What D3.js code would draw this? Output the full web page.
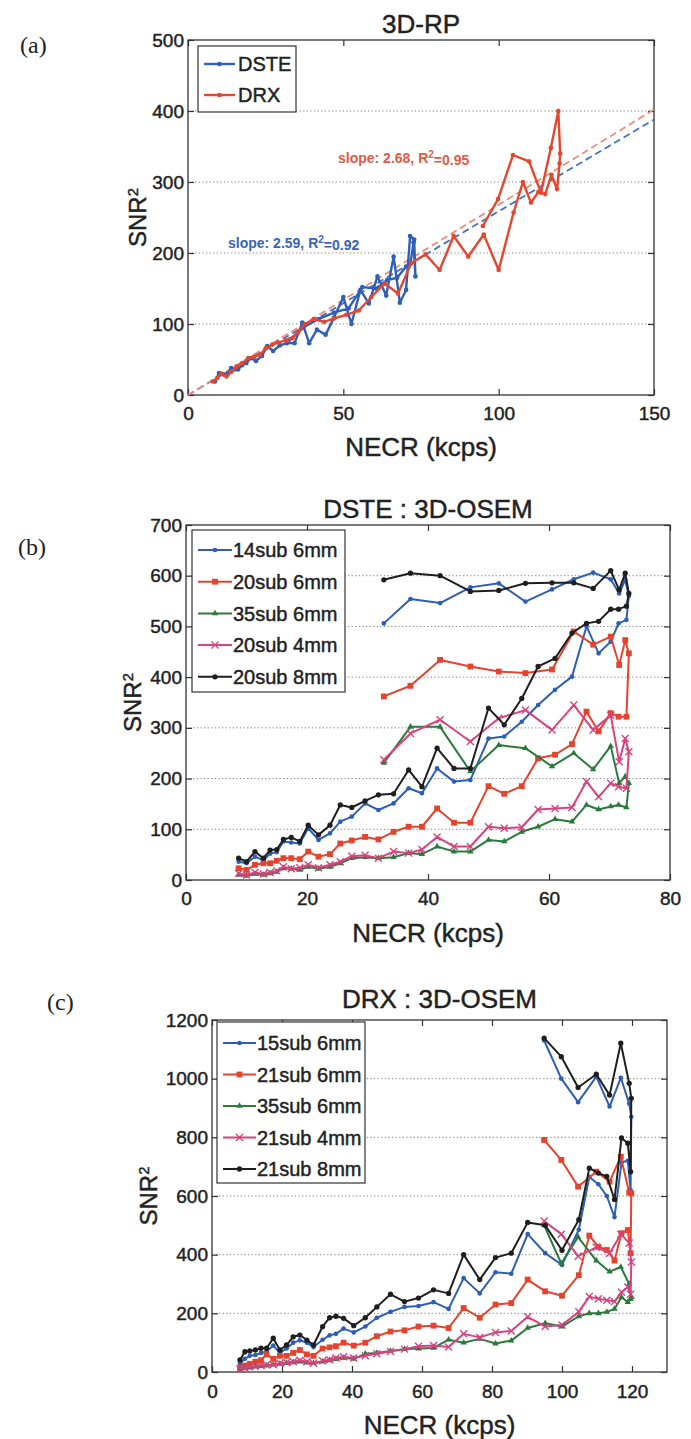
<!DOCTYPE html>
<html>
<head>
<meta charset="utf-8">
<script src="https://cdn.jsdelivr.net/npm/d3@7"></script>
<style>
  body { margin: 0; background: #fff; }
  svg text { font-family: "Liberation Sans", Arial, Helvetica, sans-serif; fill: #222; }
  svg text.heavy { stroke: #222; stroke-width: 0.45px; }
</style>
</head>
<body>
<script>
// ---- data (NECR in kcps, SNR^2) ----
// DSTE acquisitions: rising branch then falling branch (high activity)
const necrDste = [8.7, 10.0, 11.4, 12.8, 13.9, 15.0, 16.1, 17.4, 18.8, 20.2, 21.9, 23.8, 25.5, 27.4, 29.6, 31.8,
  34.3, 36.8, 39.0, 41.5, 44.3, 47.0, 50.0, 52.6, 55.5, 58.2, 61.0, 63.8, 66.2, 68.2, 70.2, 71.5, 72.8,
  73.2, 72.6, 71.6, 70.2, 67.3, 64.1, 60.5, 56.1, 51.7, 47.0, 42.0, 37.1, 32.7];
// DRX acquisitions
const necrDrx = [8.0, 9.4, 10.8, 12.4, 14.0, 15.6, 17.5, 19.4, 21.3, 23.2, 25.1, 27.1, 29.0, 31.6, 33.6, 35.4,
  37.6, 40.5, 43.8, 47.1, 51.0, 55.0, 59.0, 63.3, 67.6, 71.9, 76.5, 81.0, 85.5, 90.2, 95.2, 100.0, 104.8,
  107.8, 110.4, 112.8, 115.0, 117.0, 118.8, 119.6, 119.8, 119.2, 116.8, 113.6, 109.8, 104.6, 99.8, 94.9];

// (a) 3D-RP
const rpDste = [19, 31, 29, 30, 38, 36, 36, 42, 45, 52, 48, 55, 69, 62, 70, 73, 73, 102, 73, 92, 85, 109, 138, 100,
  148, 129, 167, 140, 195, 130, 148, 224, 219, 167, 215, 185, 181, 165, 162, 150, 152, 122, 116, 107, 95, 78];
const rpDrx = [19, 24, 30, 26, 33, 40, 45, 52, 54, 57, 66, 71, 74, 77, 80, 88, 100, 107, 103, 108, 113, 119, 138,
  157, 143, 186, 198, 176, 224, 195, 226, 176, 257, 300, 271, 286, 283, 310, 290, 326,
  340, 400, 348, 285, 329, 338, 276, 238];
const fitX = [0, 150];
const fitDste = [0, 388];
const fitDrx = [0, 402];

// (b) DSTE : 3D-OSEM
const dste14s6 = [36, 33, 46, 39, 52, 55, 76, 74, 72, 102, 79, 92, 115, 125, 151, 138, 151, 181, 171, 220, 194, 197,
  279, 283, 312, 345, 375, 401, 500, 447, 470, 506, 513, 560, 592, 565, 593, 606, 593, 573, 549, 585, 577, 546, 554, 506];
const dste20s6 = [23, 20, 30, 33, 33, 38, 43, 43, 41, 56, 46, 51, 72, 78, 85, 80, 95, 105, 105, 141, 113, 113, 185,
  170, 185, 240, 247, 268, 332, 293, 329, 322, 322, 447, 473, 424, 480, 464, 490, 415, 408, 411, 421, 434, 383, 362];
const dste35s6 = [10, 8, 12, 10, 13, 16, 23, 22, 20, 26, 22, 26, 33, 43, 45, 43, 45, 53, 51, 66, 56, 56, 79, 76, 95,
  105, 120, 115, 148, 139, 145, 148, 143, 191, 204, 191, 264, 218, 250, 224, 260, 266, 214, 302, 302, 231];
const dste20s4 = [13, 10, 15, 12, 15, 18, 26, 22, 24, 30, 24, 30, 36, 47, 49, 43, 56, 53, 60, 85, 66, 66, 105, 102,
  104, 139, 141, 143, 194, 164, 191, 184, 181, 253, 279, 233, 325, 296, 345, 296, 335, 319, 273, 316, 289, 237];
const dste20s8 = [43, 36, 56, 43, 59, 60, 80, 84, 76, 108, 89, 108, 148, 143, 156, 168, 170, 217, 184, 260, 220, 220,
  339, 306, 358, 421, 437, 487, 506, 510, 534, 534, 540, 565, 605, 572, 610, 575, 586, 586, 585, 571, 569, 600, 605, 592];

// (c) DRX : 3D-OSEM
const drx15s6 = [30, 45, 55, 58, 65, 70, 90, 65, 80, 100, 108, 100, 85, 110, 125, 130, 148, 135, 155, 185, 205, 222,
  225, 238, 215, 320, 268, 340, 335, 470, 405, 365, 485, 665, 640, 600, 528, 715, 720, 620,
  870, 915, 1003, 905, 1007, 920, 1000, 1130];
const drx21s6 = [15, 22, 28, 35, 40, 60, 45, 55, 55, 65, 75, 60, 55, 80, 84, 88, 100, 90, 100, 122, 138, 142, 155,
  158, 150, 218, 185, 230, 235, 315, 275, 260, 330, 465, 427, 416, 380, 473, 484, 405,
  609, 612, 734, 649, 683, 632, 723, 791];
const drx35s6 = [8, 12, 15, 18, 20, 22, 25, 28, 30, 33, 35, 32, 30, 35, 40, 44, 48, 45, 62, 65, 72, 78, 80, 82, 110,
  100, 113, 97, 107, 150, 166, 155, 190, 200, 200, 205, 215, 255, 238, 248,
  255, 300, 358, 342, 380, 460, 370, 500];
const drx21s4 = [10, 14, 18, 20, 22, 25, 25, 30, 32, 35, 40, 35, 30, 38, 42, 48, 52, 48, 55, 62, 70, 78, 88, 90, 85,
  130, 118, 135, 140, 188, 155, 160, 205, 257, 250, 245, 240, 272, 290, 265,
  375, 440, 470, 405, 425, 395, 470, 515];
const drx21s8 = [41, 69, 72, 75, 81, 81, 115, 75, 92, 120, 126, 109, 92, 155, 185, 190, 183, 158, 185, 222, 265, 240,
  252, 280, 268, 400, 315, 390, 405, 510, 500, 415, 519, 695, 678, 667, 588, 798, 780, 683,
  933, 984, 1121, 944, 1015, 970, 1075, 1138];

const ticksA = { x: [0, 50, 100, 150], y: [0, 100, 200, 300, 400, 500] };
const ticksB = { x: [0, 20, 40, 60, 80], y: [0, 100, 200, 300, 400, 500, 600, 700] };
const ticksC = { x: [0, 20, 40, 60, 80, 100, 120], y: [0, 200, 400, 600, 800, 1000, 1200] };

// colours
const BLUE = '#2d5db5', RED = '#e4432e', GREEN = '#2a7a3c', PINK = '#d6437f', BLACK = '#1e1e1e';

const svg = d3.select('body').append('svg').attr('width', 691).attr('height', 1439);

const zip = (xs, ys) => xs.map((v, i) => [v, ys[i]]);
const fmt = d3.format('d');

function marker(g, pts, kind, color, x, y) {
	const sel = g.selectAll(null).data(pts).join('path')
		.attr('transform', d => `translate(${x(d[0])},${y(d[1])})`);
	if (kind === 'dot') sel.attr('d', d3.symbol(d3.symbolCircle, 17)).attr('fill', color);
	if (kind === 'bigdot') sel.attr('d', d3.symbol(d3.symbolCircle, 22)).attr('fill', color);
	if (kind === 'square') sel.attr('d', d3.symbol(d3.symbolSquare, 34)).attr('fill', color);
	if (kind === 'tri') sel.attr('d', d3.symbol(d3.symbolTriangle, 18)).attr('fill', color);
	if (kind === 'x') sel.attr('d', 'M-3.5,-3.5L3.5,3.5M-3.5,3.5L3.5,-3.5').attr('fill', 'none')
		.attr('stroke', color).attr('stroke-width', 1.4);
}

function drawPanel(p) {
	const x = d3.scaleLinear().domain(p.xDomain).range([p.left, p.right]);
	const y = d3.scaleLinear().domain(p.yDomain).range([p.bottom, p.top]);
	const g = svg.append('g');

	// dotted horizontal grid
	g.selectAll(null).data(p.ticks.y.filter(v => v > p.yDomain[0] && v < p.yDomain[1])).join('line')
		.attr('x1', p.left).attr('x2', p.right)
		.attr('y1', d => y(d)).attr('y2', d => y(d))
		.attr('stroke', '#7a7a7a').attr('stroke-width', 1).attr('stroke-dasharray', '1.2,2.4');

	// axes, ticks pointing inward (matlab box)
	const ax = [
		[d3.axisBottom(x).tickValues(p.ticks.x).tickFormat(fmt).tickSize(-6).tickPadding(p.xPad), `translate(0,${p.bottom})`],
		[d3.axisTop(x).tickValues(p.ticks.x).tickSize(-6).tickFormat(''), `translate(0,${p.top})`],
		[d3.axisLeft(y).tickValues(p.ticks.y).tickFormat(fmt).tickSize(-6).tickPadding(4), `translate(${p.left},0)`],
		[d3.axisRight(y).tickValues(p.ticks.y).tickSize(-6).tickFormat(''), `translate(${p.right},0)`]
	];
	ax.forEach(([a, tr]) => {
		const s = g.append('g').attr('transform', tr).call(a);
		s.select('.domain').remove();
		s.selectAll('line').attr('stroke', '#333').attr('stroke-width', 1.2);
		s.selectAll('text').attr('font-size', p.tickFont).attr('fill', '#222')
			.attr('class', 'heavy').style('font-family', null);
	});
	g.append('rect').attr('x', p.left).attr('y', p.top)
		.attr('width', p.right - p.left).attr('height', p.bottom - p.top)
		.attr('fill', 'none').attr('stroke', '#333').attr('stroke-width', 1.3);

	// fits (dashed)
	(p.fits || []).forEach(f => {
		g.append('path').datum(zip(fitX, f.ys))
			.attr('d', d3.line().x(d => x(d[0])).y(d => y(d[1])))
			.attr('fill', 'none').attr('stroke', f.color).attr('stroke-width', 1.8)
			.attr('stroke-dasharray', '7,4');
	});

	// series
	p.series.forEach(s => {
		const pts = zip(s.xs, s.ys);
		g.append('path').datum(pts)
			.attr('d', d3.line().x(d => x(d[0])).y(d => y(d[1])))
			.attr('fill', 'none').attr('stroke', s.color).attr('stroke-width', p.lineW)
			.attr('stroke-linejoin', 'round');
		marker(g, pts, s.marker, s.color, x, y);
	});

	// legend
	const L = p.legend;
	g.append('rect').attr('x', L.x).attr('y', L.y).attr('width', L.w).attr('height', L.h)
		.attr('fill', '#fff').attr('stroke', '#333').attr('stroke-width', 1.2);
	p.series.forEach((s, i) => {
		const cy = L.y + L.first + i * L.step;
		g.append('line').attr('x1', L.x + L.lx0).attr('x2', L.x + L.lx1).attr('y1', cy).attr('y2', cy)
			.attr('stroke', s.color).attr('stroke-width', p.lineW);
		const mid = (L.lx0 + L.lx1) / 2 + L.x;
		marker(g, [[mid, cy]], s.marker, s.color, v => v, v => v);
		g.append('text').attr('x', L.x + L.tx).attr('y', cy).attr('dy', '0.36em')
			.attr('class', 'heavy').attr('font-size', L.fs).text(s.name);
	});

	// title, x label, y label
	const cx = (p.left + p.right) / 2;
	g.append('text').attr('x', cx).attr('y', p.titleY).attr('text-anchor', 'middle')
		.attr('class', 'heavy').attr('font-size', p.titleFont).text(p.title);
	g.append('text').attr('x', cx).attr('y', p.xlabY).attr('text-anchor', 'middle')
		.attr('class', 'heavy').attr('font-size', p.labFont).text('NECR (kcps)');
	const yl = g.append('text')
		.attr('transform', `translate(${p.ylabX},${(p.top + p.bottom) / 2}) rotate(-90)`)
		.attr('class', 'heavy').attr('text-anchor', 'middle').attr('font-size', p.yFont);
	yl.append('tspan').text('SNR');
	yl.append('tspan').attr('dy', '-0.55em').attr('font-size', p.yFont * 0.62).text('2');

	// panel tag
	svg.append('text').attr('x', p.tag[0]).attr('y', p.tag[1]).text(p.tag[2])
		.attr('font-size', 24).style('font-family', '"Liberation Serif", "Times New Roman", serif');

	return { x, y, g };
}

// (a)
const pa = drawPanel({
	left: 188, right: 654, top: 40, bottom: 395,
	xDomain: [0, 150], yDomain: [0, 500], ticks: ticksA, tickFont: 19, xPad: 12, lineW: 2.4,
	title: '3D-RP', titleY: 33, titleFont: 26, xlabY: 456, labFont: 26, ylabX: 146, yFont: 24,
	tag: [20, 53, '(a)'],
	fits: [{ ys: fitDste, color: '#4571c2' }, { ys: fitDrx, color: '#ee8c7c' }],
	series: [
		{ name: 'DSTE', xs: necrDste, ys: rpDste, color: '#2f5fb6', marker: 'dot' },
		{ name: 'DRX', xs: necrDrx, ys: rpDrx, color: '#e3472f', marker: 'dot' }
	],
	legend: { x: 198, y: 46, w: 98, h: 66, first: 18, step: 31, lx0: 6, lx1: 37, tx: 40, fs: 20 }
});
// slope annotations
[[338, 163, 'slope: 2.68, R', '=0.95', '#e05a48'], [228, 248, 'slope: 2.59, R', '=0.92', '#3a63b8']]
	.forEach(([tx, ty, a, b, c]) => {
		const t = pa.g.append('text').attr('x', tx).attr('y', ty).attr('font-size', 14)
			.attr('font-weight', 'bold').style('fill', c);
		t.append('tspan').text(a);
		t.append('tspan').attr('dy', '-0.5em').attr('font-size', 10).text('2');
		t.append('tspan').attr('dy', '0.5em').text(b);
	});

// (b)
drawPanel({
	left: 186, right: 670, top: 525, bottom: 880,
	xDomain: [0, 80], yDomain: [0, 700], ticks: ticksB, tickFont: 19, xPad: 12, lineW: 2,
	title: 'DSTE : 3D-OSEM', titleY: 518, titleFont: 26, xlabY: 942, labFont: 26, ylabX: 141, yFont: 24,
	tag: [18, 555, '(b)'],
	series: [
		{ name: '14sub 6mm', xs: necrDste, ys: dste14s6, color: BLUE, marker: 'dot' },
		{ name: '20sub 6mm', xs: necrDste, ys: dste20s6, color: RED, marker: 'square' },
		{ name: '35sub 6mm', xs: necrDste, ys: dste35s6, color: GREEN, marker: 'tri' },
		{ name: '20sub 4mm', xs: necrDste, ys: dste20s4, color: PINK, marker: 'x' },
		{ name: '20sub 8mm', xs: necrDste, ys: dste20s8, color: BLACK, marker: 'bigdot' }
	],
	legend: { x: 192, y: 530, w: 153, h: 162, first: 20, step: 31.7, lx0: 6, lx1: 40, tx: 41, fs: 20 }
});

// (c)
drawPanel({
	left: 212, right: 667, top: 1020, bottom: 1372,
	xDomain: [0, 130], yDomain: [0, 1200], ticks: ticksC, tickFont: 19, xPad: 13, lineW: 2,
	title: 'DRX : 3D-OSEM', titleY: 1008, titleFont: 26, xlabY: 1434, labFont: 26, ylabX: 157, yFont: 24,
	tag: [47, 1010, '(c)'],
	series: [
		{ name: '15sub 6mm', xs: necrDrx, ys: drx15s6, color: BLUE, marker: 'dot' },
		{ name: '21sub 6mm', xs: necrDrx, ys: drx21s6, color: RED, marker: 'square' },
		{ name: '35sub 6mm', xs: necrDrx, ys: drx35s6, color: GREEN, marker: 'tri' },
		{ name: '21sub 4mm', xs: necrDrx, ys: drx21s4, color: PINK, marker: 'x' },
		{ name: '21sub 8mm', xs: necrDrx, ys: drx21s8, color: BLACK, marker: 'bigdot' }
	],
	legend: { x: 217, y: 1022, w: 148, h: 161, first: 21, step: 31.5, lx0: 6, lx1: 39, tx: 40, fs: 20 }
});
</script>
</body>
</html>
